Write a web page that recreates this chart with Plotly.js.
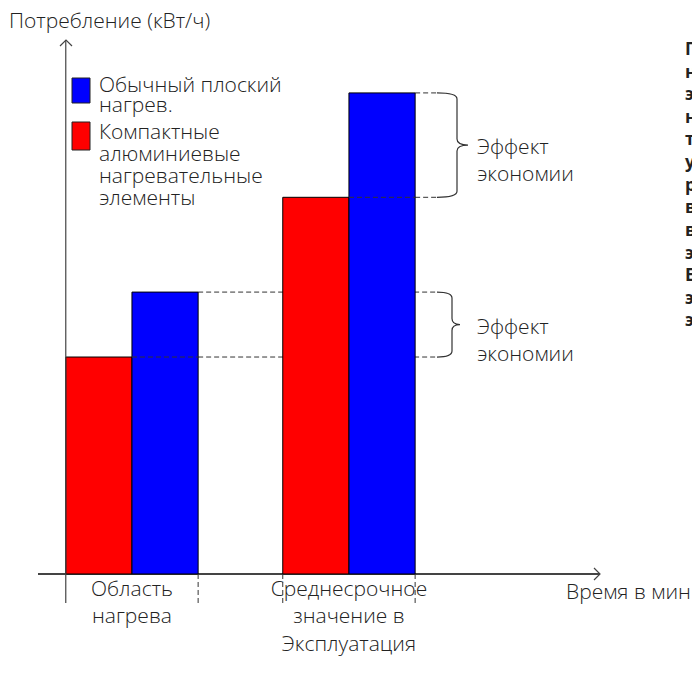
<!DOCTYPE html>
<html>
<head>
<meta charset="utf-8">
<script src="https://cdn.plot.ly/plotly-3.0.1.min.js"></script>
<style>html,body{margin:0;padding:0;background:#fff;overflow:hidden}</style>
</head>
<body>
<div id="chart" style="width:692px;height:680px"></div>
<script>
// ---- data ----
const categories = ["Область<br>нагрева", "Среднесрочное<br>значение в<br>Эксплуатация"];
const categoryPos = [0, 1];
const compactValues = [45.1, 78.3];   // Компактные алюминиевые нагревательные элементы
const flatValues = [58.6, 100];       // Обычный плоский нагрев.
const seriesNames = ["Компактные алюминиевые нагревательные элементы", "Обычный плоский нагрев."];
const legendLines = [["Обычный плоский", "нагрев."], ["Компактные", "алюминиевые", "нагревательные", "элементы"]];
const effectLabel = "Эффект<br>экономии";
const yTitle = "Потребление (кВт/ч)";
const xTitle = "Время в мин";
const sideText = "По сравнению с обычными<br>нагревателями, наши<br>энергосберегающие<br>нагревательные элементы<br>требуют меньше энергии,<br>у них выше КПД и<br>равномерный нагрев,<br>время прогрева короче,<br>вследствие чего<br>экономится электроэнергия.<br>Ежемесячная<br>экономия может достигать<br>экономически значимых сумм.";

// ---- layout geometry ----
const W = 692, H = 680;
const M = {l: 38, r: 92, t: 40, b: 77};
const PW = W - M.l - M.r, PH = H - M.t - M.b;
const xRange = [-0.433, 2.157];
const yRange = [-6.03, 111];
const bargap = 0.39;
const half = (1 - bargap) / 2;   // width of one bar in x units

const pxX = px => (px - M.l) / PW;                 // pixel -> paper x
const pxY = py => (H - M.b - py) / PH;             // pixel -> paper y
const dX = px => xRange[0] + (px - M.l) / PW * (xRange[1] - xRange[0]); // pixel -> data x
const yPerPx = (yRange[1] - yRange[0]) / PH;

const FAM = "Open Sans, Noto Sans, sans-serif";
const font = {family: FAM, size: 21, color: "#222", weight: 300};
const axisColor = "#444";
const dashStyle = {color: "#333", width: 1, dash: "5px,3px"};
const colors = ["#ff0000", "#0000ff"];

const traces = [
  {type: "bar", x: categoryPos, y: compactValues, name: seriesNames[0],
   marker: {color: colors[0], line: {color: "#000", width: 1}}, hoverinfo: "y"},
  {type: "bar", x: categoryPos, y: flatValues, name: seriesNames[1],
   marker: {color: colors[1], line: {color: "#000", width: 1}}, hoverinfo: "y"}
];

const shapes = [];
const annotations = [];
// y axis line
shapes.push({type: "line", xref: "x", yref: "paper", x0: categoryPos[0] - half, x1: categoryPos[0] - half, y0: 0, y1: 1,
  line: {color: axisColor, width: 1.2}});
// arrowheads
shapes.push({type: "path", xref: "paper", yref: "paper",
  path: `M ${pxX(W - M.r - 6)},${pxY(574 - 6)} L ${pxX(W - M.r)},${pxY(574)} L ${pxX(W - M.r - 6)},${pxY(574 + 6)}`,
  line: {color: axisColor, width: 1.2}});
shapes.push({type: "path", xref: "paper", yref: "paper",
  path: `M ${pxX(60)},${pxY(M.t + 6)} L ${pxX(66)},${pxY(M.t)} L ${pxX(72)},${pxY(M.t + 6)}`,
  line: {color: axisColor, width: 1.2}});

// vertical dashed guides below the axis
const vGuides = [categoryPos[0] + half, categoryPos[1] - half, categoryPos[1] + half];
vGuides.forEach(x => shapes.push({type: "line", xref: "x", yref: "y", x0: x, x1: x, y0: 0, y1: yRange[0],
  line: dashStyle}));

// horizontal dashed guides + braces
const braceStart = dX(437);
const braceGeom = [{xv: 452, xt: 460}, {xv: 457, xt: 468}];
categoryPos.forEach((c, i) => {
  const lo = compactValues[i], hi = flatValues[i];
  shapes.push({type: "line", xref: "x", yref: "y", x0: c, x1: c + half, y0: lo, y1: lo, line: dashStyle, layer: "above"});
  shapes.push({type: "line", xref: "x", yref: "y", x0: c + half, x1: braceStart, y0: lo, y1: lo, line: dashStyle, layer: "below"});
  shapes.push({type: "line", xref: "x", yref: "y", x0: c + half, x1: braceStart, y0: hi, y1: hi, line: dashStyle, layer: "below"});
  const g = braceGeom[i];
  const xv = dX(g.xv), xt = dX(g.xt), x0 = braceStart;
  const r = 6 * yPerPx, mid = (lo + hi) / 2;
  const path = `M ${x0},${hi} Q ${xv},${hi} ${xv},${hi - r} L ${xv},${mid + r} Q ${xv},${mid} ${xt},${mid} ` +
               `Q ${xv},${mid} ${xv},${mid - r} L ${xv},${lo + r} Q ${xv},${lo} ${x0},${lo}`;
  shapes.push({type: "path", xref: "x", yref: "y", path: path, line: {color: "#333", width: 1.2}});
  annotations.push({xref: "paper", yref: "y", x: pxX(475), y: mid, yshift: 15, xanchor: "left", yanchor: "top",
    align: "left", text: effectLabel, showarrow: false, font: font});
});

// legend (drawn: blue entry first, then red)
const legendSpec = [
  {color: colors[1], lines: legendLines[0], swTop: 78, swBot: 103, firstLine: 84, gap: 20},
  {color: colors[0], lines: legendLines[1], swTop: 122, swBot: 150, firstLine: 131, gap: 22}
];
legendSpec.forEach(s => {
  shapes.push({type: "rect", xref: "paper", yref: "paper", x0: pxX(72), x1: pxX(90), y0: pxY(s.swBot), y1: pxY(s.swTop),
    fillcolor: s.color, line: {color: "#222", width: 1}});
  s.lines.forEach((t, k) => annotations.push({xref: "paper", yref: "paper", x: pxX(97), y: pxY(s.firstLine + k * s.gap),
    xanchor: "left", yanchor: "middle", text: t, showarrow: false, font: font}));
});

annotations.push(
  {xref: "paper", yref: "paper", x: pxX(7), y: pxY(20), xanchor: "left", yanchor: "middle",
   text: yTitle, showarrow: false, font: font},
  {xref: "paper", yref: "paper", x: pxX(564), y: pxY(591), xanchor: "left", yanchor: "middle",
   text: xTitle, showarrow: false, font: font},
  {xref: "paper", yref: "paper", x: pxX(683), y: pxY(34), xanchor: "left", yanchor: "top", align: "left",
   text: sideText, showarrow: false, font: {family: FAM, size: 17.4, color: "#222", weight: 700}}
);

const layout = {
  width: W, height: H,
  margin: M,
  paper_bgcolor: "#fff", plot_bgcolor: "#fff",
  barmode: "group", bargap: bargap, bargroupgap: 0,
  font: font,
  showlegend: false,
  xaxis: {range: xRange, tickvals: categoryPos, ticktext: categories, showgrid: false, zeroline: false,
    showline: false, ticks: "", tickfont: font, anchor: "free", position: pxY(574), ticklabelstandoff: 0,
    fixedrange: true},
  yaxis: {range: yRange, showgrid: false, zeroline: true, zerolinecolor: axisColor, zerolinewidth: 1.2,
    showticklabels: false, ticks: "", showline: false, fixedrange: true},
  shapes: shapes,
  annotations: annotations
};

Plotly.newPlot("chart", traces, layout, {displayModeBar: false, staticPlot: true});
</script>
</body>
</html>
